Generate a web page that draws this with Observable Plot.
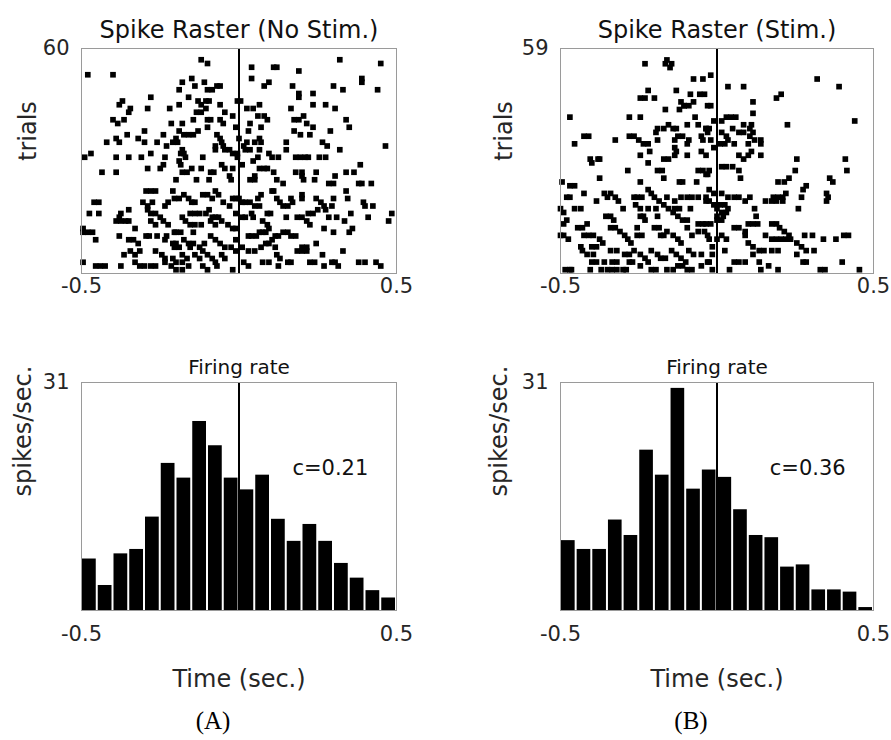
<!DOCTYPE html>
<html><head><meta charset="utf-8">
<script src="https://cdn.jsdelivr.net/npm/d3@7"></script>
<script src="https://cdn.jsdelivr.net/npm/@observablehq/plot@0.6"></script>
<style>
body{margin:0;background:#fff;}
#fig{position:relative;width:891px;height:740px;overflow:hidden;background:#fff;}
.panel{position:absolute;}
</style></head><body><div id="fig"></div>
<script>
// ---------- DATA ----------
const trialsNoStim = 60;
const trialsStim = 59;
const rateMax = 31;
const timeTicks = [-0.5, 0.5];
const binEdges = d3.range(0, 21).map(i => -0.5 + i * 0.05);

// Spike raster A (No Stim.): [time (s), trial]
const spikesNoStim = [
[-0.12,57],[-0.10,56],[-0.48,53],[-0.40,53],[-0.15,52],[-0.18,51],[-0.11,51],[-0.14,50],[-0.06,50],[-0.10,49],[-0.085,49],[-0.07,50],[-0.19,49],[-0.28,47],[-0.16,47],[-0.13,46],[-0.12,45],[-0.105,46],[-0.095,46],[-0.38,45],[-0.37,46],[-0.19,45],[-0.06,45],[-0.005,46],
[-0.29,44],[-0.345,44],[-0.35,43],[-0.22,44],[-0.135,43],[-0.12,43],[-0.105,44],[-0.045,43],[-0.02,42],[-0.40,41],[-0.385,40],[-0.365,41],[-0.215,40],[-0.18,40],[-0.145,41],[-0.10,41],[-0.09,41],[-0.06,41],[-0.05,40],[-0.355,37],[-0.30,38],[-0.24,37],[-0.19,38],[-0.175,37],[-0.16,37],[-0.145,37],[-0.13,38],[-0.10,39],[-0.07,37],[-0.06,36],[-0.055,35],[-0.01,39],[-0.42,35],[-0.39,36],[-0.38,35],[-0.32,36],[-0.30,35],[-0.26,35],[-0.21,35],[-0.20,36],[-0.195,35],
[-0.23,34],[-0.18,33],[-0.175,32],[-0.075,34],[-0.05,34],[-0.03,33],[-0.49,31],[-0.47,32],[-0.39,31],[-0.35,31],[-0.31,31],[-0.28,32],[-0.235,31],[-0.185,32],[-0.17,31],[-0.115,31],[-0.075,33],[-0.045,33],[-0.02,32],[-0.005,31],
[0.32,57],[0.45,56],[0.04,55],[0.11,55],[0.12,55],[0.19,54],[0.04,52],[0.39,52],[0.39,51],[0.095,51],[0.08,50],[0.17,50],[0.30,50],[0.33,49],[0.44,49],[0.19,48],[0.19,47],[0.235,48],[0.005,46],[0.235,45],[0.275,45],[0.065,45],[0.025,44],[0.045,44],[0.165,44],[0.305,44],[0.06,42],[0.08,42],[0.09,41],[0.175,41],[0.19,41],[0.205,42],[0.215,40],[0.235,39],[0.34,41],[0.35,39],[0.035,40],[0.07,39],[0.03,38],[0.175,38],[0.195,37],[0.225,37],[0.29,38],[0.065,36],[0.07,35],[0.05,35],[0.0,36],[0.025,35],[0.015,34],[0.15,35],[0.265,35],[0.28,34],[0.465,34],[0.02,33],[0.035,33],[0.065,33],[0.15,33],[0.32,33],[0.095,32],[0.105,31],[0.06,31],[0.125,31],[0.18,31],[0.195,31],[0.21,31],[0.22,31],[0.255,31],[0.275,31],[-0.005,32],
[-0.435,27],[-0.39,27],[-0.29,28],[-0.25,28],[-0.24,29],[-0.19,30],[-0.185,29],[-0.18,27],[-0.165,27],[-0.15,28],[-0.12,28],[-0.135,25],[-0.09,27],[-0.08,27],[-0.055,29],[-0.045,28],[-0.03,26],[-0.025,25],[-0.02,28],[-0.20,25],[-0.095,25],[-0.295,22],[-0.28,22],[-0.265,22],[-0.46,19],[-0.445,19],[-0.35,17],[-0.305,19],[-0.29,18],[-0.275,19],[-0.235,18],[-0.225,19],[-0.205,20],[-0.19,20],[-0.175,21],[-0.21,22],[-0.16,20],[-0.15,19],[-0.14,19],[-0.115,21],[-0.10,21],[-0.085,20],[-0.075,22],[-0.065,21],[-0.05,19],[-0.03,18],[-0.02,20],[-0.01,20],
[-0.475,16],[-0.445,16],[-0.375,16],[-0.38,15],[-0.39,14],[-0.375,14],[-0.36,14],[-0.35,14],[-0.33,12],[-0.29,17],[-0.28,16],[-0.265,16],[-0.25,15],[-0.24,14],[-0.265,13],[-0.28,14],[-0.225,13],[-0.205,11],[-0.20,11],[-0.185,11],[-0.18,15],[-0.155,16],[-0.14,16],[-0.125,16],[-0.17,14],[-0.155,13],[-0.14,13],[-0.12,13],[-0.145,11],[-0.105,16],[-0.095,17],[-0.085,15],[-0.075,15],[-0.065,15],[-0.055,14],[-0.035,13],[-0.02,12],[-0.01,12],[-0.09,14],[-0.075,13],
[-0.495,12],[-0.495,11],[-0.48,11],[-0.465,11],[-0.455,9],[-0.38,10],[-0.35,9],[-0.335,9],[-0.32,8],[-0.295,10],[-0.285,10],[-0.26,10],[-0.23,10],[-0.235,9],[-0.21,8],[-0.20,8],[-0.19,7],[-0.205,7],[-0.175,9],[-0.16,8],[-0.145,8],[-0.155,7],[-0.125,7],[-0.11,8],[-0.115,6],[-0.09,10],[-0.075,9],[-0.06,8],[-0.045,7],[-0.025,7],[-0.01,6],[-0.345,6],[-0.33,5],[-0.315,6],[-0.365,5],[-0.265,6],[-0.245,5],[-0.235,4],[-0.21,4],[-0.20,3],[-0.18,5],[-0.165,4],[-0.18,3],[-0.14,5],[-0.125,4],[-0.10,5],[-0.085,4],[-0.075,3],[-0.055,5],[-0.045,4],
[-0.495,3],[-0.455,2],[-0.44,2],[-0.425,2],[-0.375,2],[-0.33,3],[-0.315,2],[-0.30,2],[-0.28,2],[-0.265,2],[-0.235,3],[-0.215,2],[-0.20,1],[-0.18,1],[-0.16,2],[-0.115,2],[-0.10,1],[-0.07,2],[-0.02,1],
[0.01,29],[0.045,30],[0.065,28],[0.08,28],[0.09,28],[0.11,27],[0.05,26],[0.035,25],[0.05,25],[0.18,27],[0.20,27],[0.20,26],[0.245,27],[0.305,26],[0.34,27],[0.365,27],[0.385,29],[0.12,25],[0.14,24],[0.205,25],[0.24,25],[0.285,24],[0.30,24],[0.38,24],[0.39,24],[0.42,24],[0.06,20],[0.07,21],[0.105,22],[0.11,22],[0.20,21],[0.20,20],[0.165,20],[0.17,19],[0.245,20],[0.26,19],[0.27,18],[0.275,17],[0.30,20],[0.295,18],[0.34,22],[0.345,20],[0.395,19],[0.40,18],[0.425,18],[0.485,16],[0.475,14],
[0.0,20],[0.01,19],[0.02,19],[0.035,19],[0.05,18],[0.065,18],[-0.01,16],[0.01,15],[0.02,15],[0.12,20],[0.13,19],[0.14,18],[0.155,18],[0.09,16],[0.10,16],[0.15,15],[0.185,15],[0.20,15],[0.215,14],[0.225,13],[0.22,16],[0.235,16],[0.25,17],[0.285,15],[0.31,15],[0.335,14],[0.355,16],[0.36,12],[0.35,11],[0.41,15],[0.04,16],[0.045,15],[0.075,14],[0.09,13],[0.095,12],[0.085,11],[0.065,11],[0.27,12],[0.30,11],
[0.03,10],[0.04,10],[0.055,10],[0.075,11],[0.105,9],[0.115,10],[0.125,10],[0.14,11],[0.155,11],[0.165,10],[0.18,10],[0.07,7],[0.085,8],[0.095,8],[0.115,7],[0.20,7],[0.215,7],[0.245,8],[-0.01,9],[0.01,7],[0.03,6],[0.185,6],[0.20,6],[0.215,6],[0.265,5],[0.33,6],[0.05,6],[0.095,3],[0.12,5],[0.13,4],[0.015,3],[0.03,2],[0.075,3],[0.125,2],[0.155,3],[0.165,3],[0.225,3],[0.24,3],[0.27,2],[0.295,3],[0.305,3],[0.315,2],[0.38,3],[0.40,3],[0.435,3],[0.45,2]
];

// Spike raster B (Stim.): [time (s), trial]
const spikesStim = [
[-0.16,56],[-0.165,55],[-0.145,55],[-0.15,54],[-0.23,55],[-0.075,51],[-0.045,51],[-0.22,48],[-0.13,48],[-0.245,46],[-0.23,46],[-0.20,46],[-0.085,47],[-0.055,47],[-0.04,47],[-0.115,45],[-0.105,44],[-0.09,44],[-0.075,45],[-0.165,43],[-0.12,43],[-0.105,44],[-0.07,41],[-0.47,41],[-0.28,41],[-0.245,41],[-0.03,44],[-0.19,38],[-0.195,37],[-0.17,38],[-0.155,39],[-0.14,38],[-0.13,38],[-0.095,39],[-0.06,39],[-0.035,38],[-0.03,37],[-0.425,36],[-0.41,36],[-0.325,35],[-0.28,36],[-0.265,36],[-0.25,35],[-0.235,34],[-0.125,36],[-0.11,36],[-0.135,35],[-0.09,35],[-0.05,36],[-0.045,35],[-0.455,34],[-0.22,34],[-0.215,32],[-0.19,35],[-0.135,33],[-0.13,32],[-0.135,31],[-0.095,34],[-0.095,31],[-0.05,32],[-0.035,31],[-0.405,30],[-0.375,30],[-0.245,31],[-0.17,30],[-0.155,30],
[-0.02,52],[0.035,49],[0.085,49],[0.32,51],[0.39,49],[0.19,46],[0.205,47],[0.115,45],[-0.02,44],[0.115,42],[0.03,41],[0.045,41],[0.06,41],[-0.01,40],[0.015,40],[0.11,39],[0.085,39],[0.225,39],[0.44,40],[-0.035,38],[-0.025,38],[0.05,38],[0.015,37],[0.03,36],[0.105,38],[0.115,37],[0.07,37],[0.085,37],[-0.02,35],[0.105,36],[0.12,35],[0.14,35],[0.035,35],[0.01,34],[0.025,34],[0.055,34],[0.10,34],[0.14,34],[-0.01,33],[0.11,32],[0.14,31],[0.07,31],[0.085,30],[0.10,31],[0.255,30],[0.41,30],
[-0.40,29],[-0.38,30],[-0.22,29],[-0.285,27],[-0.19,27],[-0.175,27],[-0.06,27],[-0.045,27],[-0.035,26],[-0.495,24],[-0.47,23],[-0.455,23],[-0.375,25],[-0.245,24],[-0.17,25],[-0.12,24],[-0.11,24],[-0.065,24],[-0.48,20],[-0.47,20],[-0.425,21],[-0.385,19],[-0.36,21],[-0.35,20],[-0.34,21],[-0.325,20],[-0.315,19],[-0.30,17],[-0.265,20],[-0.255,20],[-0.24,20],[-0.22,22],[-0.21,21],[-0.20,20],[-0.185,19],[-0.16,20],[-0.135,19],[-0.115,20],[-0.095,20],[-0.08,20],[-0.06,20],[-0.035,20],
[-0.5,17],[-0.49,16],[-0.48,14],[-0.49,13],[-0.455,17],[-0.435,17],[-0.355,15],[-0.34,15],[-0.33,14],[-0.26,18],[-0.245,17],[-0.235,15],[-0.22,17],[-0.245,15],[-0.23,14],[-0.195,17],[-0.19,15],[-0.17,18],[-0.155,17],[-0.135,17],[-0.12,17],[-0.14,16],[-0.125,15],[-0.11,14],[-0.095,14],[-0.085,17],[-0.06,13],[-0.045,13],[-0.445,12],[-0.43,12],[-0.415,13],
[-0.50,10],[-0.49,10],[-0.425,10],[-0.41,10],[-0.395,10],[-0.375,9],[-0.34,12],[-0.325,12],[-0.31,11],[-0.295,10],[-0.285,9],[-0.275,8],[-0.255,12],[-0.255,10],[-0.24,10],[-0.20,12],[-0.185,12],[-0.18,10],[-0.17,10],[-0.16,11],[-0.14,10],[-0.125,9],[-0.115,8],[-0.095,12],[-0.08,10],[-0.06,11],[-0.04,11],
[-0.475,9],[-0.435,7],[-0.43,6],[-0.40,7],[-0.385,7],[-0.415,5],[-0.395,5],[-0.365,8],[-0.34,6],[-0.32,6],[-0.295,5],[-0.28,5],[-0.265,6],[-0.245,5],[-0.23,4],[-0.21,6],[-0.19,5],[-0.18,4],[-0.165,4],[-0.145,6],[-0.13,5],[-0.115,4],[-0.10,3],[-0.09,6],[-0.075,5],[-0.05,5],[-0.05,2],[-0.03,3],
[-0.40,3],[-0.385,3],[-0.36,3],[-0.335,3],[-0.32,3],[-0.28,3],[-0.27,3],[-0.245,2],[-0.22,3],[-0.125,2],[-0.11,2],[-0.485,1],[-0.47,1],[-0.465,1],[-0.405,1],[-0.37,1],[-0.35,1],[-0.335,1],[-0.32,1],[-0.30,1],[-0.29,1],[-0.21,1],[-0.195,1],[-0.16,1],[-0.14,1],[-0.095,1],[-0.08,1],
[0.015,28],[0.03,28],[0.05,28],[-0.025,27],[-0.03,26],[0.07,27],[0.075,25],[0.25,27],[0.415,27],[0.23,25],[0.36,25],[0.37,24],[0.195,24],[0.215,24],[0.285,23],[0.275,22],[0.22,21],[0.21,20],[0.195,20],[0.18,20],[0.155,19],[0.175,19],[0.19,19],[0.21,19],[0.27,20],[0.26,17],[0.35,21],[0.355,20],[0.35,19],
[-0.025,22],[-0.01,21],[0.015,21],[0.035,20],[0.055,20],[0.07,20],[0.09,19],[0.105,20],[0.12,17],[-0.035,19],[-0.025,19],[-0.01,18],[0.01,18],[0.025,18],[0.035,17],[0.0,17],[0.015,16],[0.03,16],[0.0,15],[0.02,15],[0.0,14],[0.015,14],[0.125,15],[-0.035,13],[-0.02,13],[0.10,13],[0.115,13],[0.13,13],[0.055,12],[0.07,12],[0.09,11],[0.175,13],[0.19,13],[0.20,12],[0.215,11],[0.23,10],
[0.015,10],[0.03,9],[0.0,9],[-0.015,7],[-0.03,10],[-0.025,9],[0.09,10],[0.10,8],[0.115,7],[0.135,6],[0.155,10],[0.175,9],[0.19,9],[0.205,9],[0.22,9],[0.235,9],[0.255,8],[0.27,7],[0.285,6],[0.28,10],[0.305,10],[0.34,9],[0.38,9],[0.405,10],[0.42,10],[0.15,6],[0.175,6],[0.195,6],[0.31,6],[0.115,5],[0.255,5],[-0.015,5],[-0.025,3],[0.025,6],[0.055,3],[0.07,3],[0.09,3],[0.135,3],[0.14,1],[0.165,2],[0.195,1],[0.275,3],[0.285,3],[0.33,1],[0.345,1],[0.40,3],[0.455,1],[0.04,1],[-0.015,1]
];

// Firing rate per 50 ms bin (spikes/sec.)
const rateNoStim = [7.0, 3.4, 7.7, 8.3, 12.7, 20.0, 18.0, 25.7, 22.4, 18.0, 16.4, 18.4, 12.4, 9.4, 11.7, 9.4, 6.4, 4.4, 2.7, 1.7];
const rateStim   = [9.5, 8.3, 8.3, 12.3, 10.2, 21.8, 18.4, 30.2, 16.5, 19.1, 18.1, 13.7, 10.2, 9.9, 5.9, 6.2, 2.8, 2.8, 2.5, 0.4];
const corrLabels = [{panel: "A", t: 0.29, rate: 19.4, text: "c=0.21"}, {panel: "B", t: 0.29, rate: 19.4, text: "c=0.36"}];

const titlesRaster = ["Spike Raster (No Stim.)", "Spike Raster (Stim.)"];
const titleRate = "Firing rate";
const panelLetters = ["(A)", "(B)"];

// ---------- DRAWING ----------
const SANS = "'DejaVu Sans', 'Liberation Sans', sans-serif";
const SERIF = "'Liberation Serif', 'DejaVu Serif', serif";
const TXT = "#262626";
const fmt = d => String(d);

function place(node, left, top) {
  node.classList.add("panel");
  node.style.left = left + "px";
  node.style.top = top + "px";
  document.getElementById("fig").appendChild(node);
}

function raster(spikes, nTrials, title, ml, mr, w, labelOff) {
  return Plot.plot({
    width: w, height: 300,
    marginTop: 48, marginBottom: 27, marginLeft: ml, marginRight: mr,
    style: {fontFamily: SANS, fontSize: "21px", color: TXT, background: "transparent", overflow: "visible"},
    x: {domain: [-0.5, 0.5], ticks: timeTicks, tickFormat: fmt, tickSize: 0, tickPadding: 5, label: null},
    y: {domain: [0, nTrials], ticks: [nTrials], tickSize: 0, tickPadding: 12, label: null},
    marks: [
      Plot.dot(spikes, {x: d => d[0], y: d => d[1], symbol: "square", r: 3.2, fill: "black", stroke: null}),
      Plot.ruleX([0], {stroke: "black", strokeWidth: 2}),
      Plot.frame({stroke: "#9a9a9a", strokeWidth: 1}),
      Plot.text([title], {frameAnchor: "top", dy: -11, lineAnchor: "bottom", fontSize: 24, fill: "#111"}),
      Plot.text(["trials"], {frameAnchor: "left", rotate: -90, dx: -labelOff, lineAnchor: "top", fontSize: 24, fill: TXT})
    ]
  });
}

function rateHist(rates, label, letter, ml, mr, w, labelOff, letterDx) {
  const bins = rates.map((r, i) => ({x1: binEdges[i], x2: binEdges[i + 1], rate: r}));
  return Plot.plot({
    width: w, height: 400,
    marginTop: 42, marginBottom: 130, marginLeft: ml, marginRight: mr,
    style: {fontFamily: SANS, fontSize: "21px", color: TXT, background: "transparent", overflow: "visible"},
    x: {domain: [-0.5, 0.5], ticks: timeTicks, tickFormat: fmt, tickSize: 0, tickPadding: 16, label: null},
    y: {domain: [0, rateMax], ticks: [rateMax], tickSize: 0, tickPadding: 12, label: null},
    marks: [
      Plot.rectY(bins, {x1: "x1", x2: "x2", y: "rate", fill: "black", insetLeft: 1, insetRight: 1}),
      Plot.ruleX([0], {stroke: "black", strokeWidth: 2}),
      Plot.frame({stroke: "#9a9a9a", strokeWidth: 1}),
      Plot.text([label], {x: "t", y: "rate", text: "text", fontSize: 21, fill: "#111"}),
      Plot.text([titleRate], {frameAnchor: "top", dy: -9, lineAnchor: "bottom", fontSize: 20, fill: "#111"}),
      Plot.text(["spikes/sec."], {frameAnchor: "left", rotate: -90, dx: -labelOff, lineAnchor: "top", fontSize: 24, fill: TXT}),
      Plot.text(["Time (sec.)"], {frameAnchor: "bottom", dy: 76, lineAnchor: "bottom", fontSize: 24, fill: TXT}),
      Plot.text([letter], {frameAnchor: "bottom", dx: letterDx, dy: 110, lineAnchor: "middle", fontSize: 25, fontFamily: SERIF, fill: "#000"})
    ]
  });
}

place(raster(spikesNoStim, trialsNoStim, titlesRaster[0], 81, 49, 445, 63), 0, 0);
place(raster(spikesStim, trialsStim, titlesRaster[1], 115, 18, 446, 66), 445, 0);
place(rateHist(rateNoStim, corrLabels[0], panelLetters[0], 81, 49, 445, 68, -26), 0, 340);
place(rateHist(rateStim, corrLabels[1], panelLetters[1], 115, 18, 446, 71, -26), 445, 340);
</script></body></html>
